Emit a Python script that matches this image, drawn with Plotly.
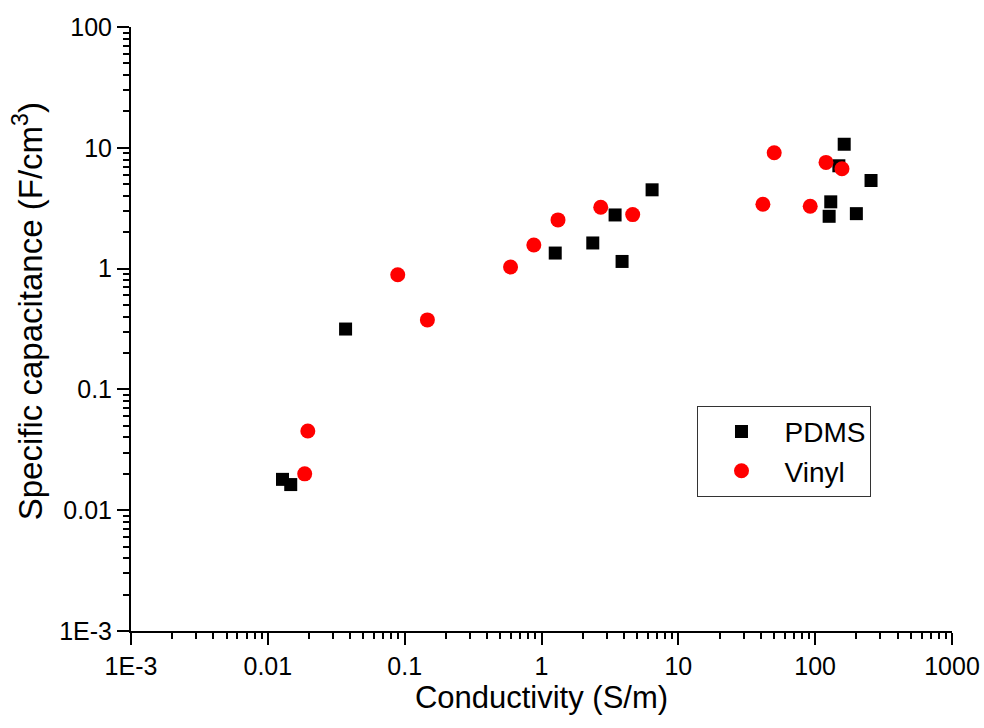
import plotly.graph_objects as go

# ---- data ----
pdms_conductivity = [0.0128, 0.0147, 0.037, 1.26, 2.37, 3.45, 3.88, 6.43,
                     126.5, 130, 149, 163, 200, 256]
pdms_capacitance = [0.018, 0.0163, 0.316, 1.345, 1.63, 2.78, 1.146, 4.49,
                    2.71, 3.57, 7.1, 10.7, 2.85, 5.36]

vinyl_conductivity = [0.0186, 0.0196, 0.089, 0.1466, 0.594, 0.879, 1.32, 2.71,
                      4.64, 41.5, 50.2, 92, 120, 157]
vinyl_capacitance = [0.020, 0.0452, 0.89, 0.376, 1.03, 1.57, 2.53, 3.22,
                     2.8, 3.41, 9.1, 3.28, 7.57, 6.7]

x_tickvals = [1e-3, 1e-2, 1e-1, 1, 10, 100, 1000]
x_ticktext = ["1E-3", "0.01", "0.1", "1", "10", "100", "1000"]
y_tickvals = [1e-3, 1e-2, 1e-1, 1, 10, 100]
y_ticktext = ["1E-3", "0.01", "0.1", "1", "10", "100"]

x_title = "Conductivity (S/m)"
y_title = "Specific capacitance (F/cm<sup>3</sup>)"

FONT = "Arial, Liberation Sans, sans-serif"

fig = go.Figure()
fig.add_trace(go.Scatter(
    x=pdms_conductivity, y=pdms_capacitance, mode="markers", name="PDMS",
    marker=dict(symbol="square", size=13, color="black", line=dict(width=0)),
))
fig.add_trace(go.Scatter(
    x=vinyl_conductivity, y=vinyl_capacitance, mode="markers", name="Vinyl",
    marker=dict(symbol="circle", size=15, color="#ff0000", line=dict(width=0)),
))

axis_common = dict(
    type="log",
    showgrid=False,
    zeroline=False,
    showline=True,
    linecolor="black",
    linewidth=2,
    ticks="outside",
    ticklen=12,
    tickwidth=2,
    tickcolor="black",
    tickfont=dict(family=FONT, size=25, color="black"),
    minor=dict(ticks="outside", ticklen=6, tickwidth=2, tickcolor="black",
               dtick="D1", showgrid=False),
    mirror=False,
)

fig.update_xaxes(
    **axis_common,
    range=[-3, 3],
    tickmode="array", tickvals=x_tickvals, ticktext=x_ticktext,
    title=dict(text=x_title, font=dict(family=FONT, size=31, color="black"),
               standoff=7),
)
fig.update_yaxes(
    **axis_common,
    range=[-3, 2],
    tickmode="array", tickvals=y_tickvals, ticktext=y_ticktext,
)

# y-axis title placed like the reference (slightly above the axis centre)
fig.add_annotation(
    text=y_title, textangle=-90, showarrow=False,
    xref="paper", yref="paper", x=-0.125, y=0.53,
    xanchor="center", yanchor="middle",
    font=dict(family=FONT, size=33, color="black"),
)

fig.update_layout(
    width=984, height=728,
    margin=dict(l=131, r=32, t=27, b=97, autoexpand=False),
    paper_bgcolor="white",
    plot_bgcolor="white",
    showlegend=True,
    legend=dict(
        x=0.69, y=0.373, xanchor="left", yanchor="top",
        bgcolor="white", bordercolor="#333333", borderwidth=1,
        font=dict(family=FONT, size=28, color="black"),
        itemwidth=76,
        tracegroupgap=0,
    ),
)

fig.write_html("out.html", config={"displayModeBar": False},
               post_script="document.body.style.margin='0px';")
